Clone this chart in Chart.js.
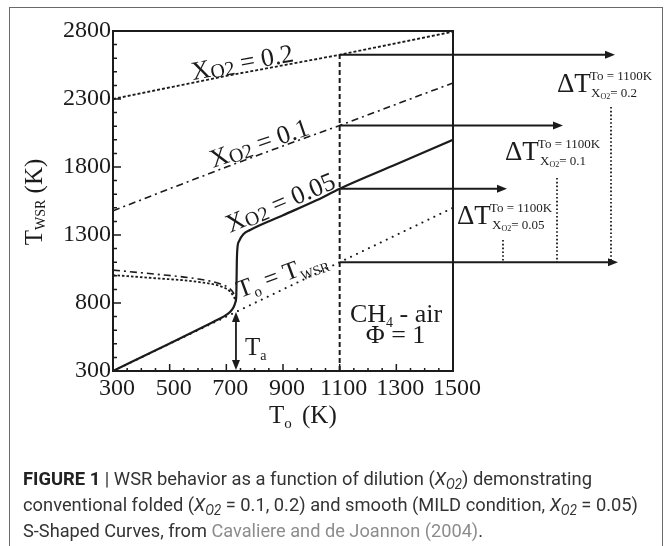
<!DOCTYPE html>
<html>
<head>
<meta charset="utf-8">
<script src="https://cdn.jsdelivr.net/npm/chart.js@4.4.1/dist/chart.umd.min.js"></script>
<style>
  html, body { margin: 0; padding: 0; background: #fff; }
  #wrap { position: relative; width: 665px; height: 546px; overflow: hidden; background: #fff; }
  #c { position: absolute; left: 0; top: 0; }
  #frame { position: absolute; left: 9px; top: 7px; width: 654px; height: 600px;
           border: 1.5px solid #6a6a6a; border-bottom: none; box-sizing: border-box; pointer-events: none; }
  .cap { position: absolute; left: 23px; font-family: Roboto, "Liberation Sans", sans-serif; font-size: 19px;
         line-height: 26px; color: #333; white-space: nowrap; transform-origin: 0 50%; }
  .cap b { color: #222; }
  .cap sub { font-size: 0.72em; vertical-align: -0.28em; line-height: 0; }
  .cite { color: #8c8c8c; }
</style>
</head>
<body>
<div id="wrap">
  <canvas id="c" width="665" height="546"></canvas>
  <div id="frame"></div>
  <div class="cap" id="l1" style="top:466px"><b>FIGURE 1</b> | WSR behavior as a function of dilution (<i>X<sub>O2</sub></i>) demonstrating</div>
  <div class="cap" id="l2" style="top:492px">conventional folded (<i>X<sub>O2</sub></i> = 0.1, 0.2) and smooth (MILD condition, <i>X<sub>O2</sub></i> = 0.05)</div>
  <div class="cap" id="l3" style="top:518px">S-Shaped Curves, from <span class="cite">Cavaliere and de Joannon (2004)</span>.</div>
</div>
<script>
// ---------- data ----------
const xTickLabels = [300, 500, 700, 900, 1100, 1300, 1500];
const yTickLabels = [300, 800, 1300, 1800, 2300, 2800];

// X_O2 = 0.2 : upper (ignited) branch and middle branch
const x02UpT  = [300, 700, 1100, 1500];
const x02UpW  = [2300, 2470, 2625, 2795];
const x02MidT = [300, 450, 600, 690, 715, 728, 734];
const x02MidW = [1005, 982, 955, 915, 880, 840, 812];

// X_O2 = 0.1 : upper branch and middle branch
const x01UpT  = [300, 500, 700, 900, 1100, 1300, 1500];
const x01UpW  = [1478, 1640, 1800, 1955, 2105, 2262, 2418];
const x01MidT = [300, 450, 600, 680, 710, 725, 733];
const x01MidW = [1042, 1012, 977, 940, 910, 875, 835];

// X_O2 = 0.05 : smooth (MILD) curve
const x005T = [300, 500, 650, 690, 713, 726, 732, 735, 736, 737, 739, 745, 760, 784, 900, 1020, 1100, 1300, 1500];
const x005W = [300, 503, 657, 700, 734, 770, 805, 850, 950, 1100, 1200, 1255, 1305, 1337, 1445, 1557, 1640, 1820, 2000];

// To = T_WSR (no reaction)
const idT = [300, 1500];
const idW = [300, 1500];

// reference inlet temperature and the T_WSR levels reached there
const To_ref = 1100;
const deltaLevels = [2625, 2105, 1640];   // X_O2 = 0.2, 0.1, 0.05
const baseLevel = 1100;                  // To = T_WSR at 1100 K
const Ta = 734;                          // autoignition temperature

const INK = '#1b1b1b';
const SERIF = '"Liberation Serif", "Times New Roman", "DejaVu Serif", serif';

const zip = (a, b) => a.map((v, i) => ({ x: v, y: b[i] }));

function line(data, opts) {
  return Object.assign({
    data, showLine: true, pointRadius: 0, borderColor: INK, borderWidth: 2,
    fill: false, tension: 0
  }, opts);
}

const datasets = [
  line(zip(idT, idW), { borderWidth: 2, borderDash: [0.1, 6.5], borderCapStyle: 'round' }),
  line(zip(x02UpT, x02UpW), { borderWidth: 1.8, borderDash: [3, 2] }),
  line(zip(x02MidT, x02MidW), { borderWidth: 1.8, borderDash: [2.5, 2], cubicInterpolationMode: 'monotone' }),
  line(zip(x01UpT, x01UpW), { borderWidth: 1.6, borderDash: [7, 4, 2, 4] }),
  line(zip(x01MidT, x01MidW), { borderWidth: 1.6, borderDash: [7, 4, 2, 4], cubicInterpolationMode: 'monotone' }),
  line(zip(x005T, x005W), { borderWidth: 2.2, cubicInterpolationMode: 'monotone' }),
  line(zip([To_ref, To_ref], [300, deltaLevels[0]]), { borderWidth: 2, borderDash: [5, 3] })
];

// ---------- helpers ----------
function rich(ctx, x, y, ang, parts, align) {
  ctx.save();
  ctx.translate(x, y);
  ctx.rotate(ang * Math.PI / 180);
  ctx.textBaseline = 'alphabetic';
  ctx.textAlign = 'left';
  let w = 0;
  parts.forEach(p => {
    ctx.font = (p.it ? 'italic ' : '') + p.s + 'px ' + SERIF;
    p.w = ctx.measureText(p.t).width + (p.gap || 0);
    w += p.w;
  });
  let cx = align === 'center' ? -w / 2 : (align === 'right' ? -w : 0);
  parts.forEach(p => {
    ctx.font = (p.it ? 'italic ' : '') + p.s + 'px ' + SERIF;
    ctx.fillText(p.t, cx, p.dy || 0);
    cx += p.w;
  });
  ctx.restore();
}

function arrowHead(ctx, x, y, dir) {
  const L = 10, H = 4;
  ctx.beginPath();
  if (dir === 'r') { ctx.moveTo(x, y); ctx.lineTo(x - L, y - H); ctx.lineTo(x - L, y + H); }
  if (dir === 'u') { ctx.moveTo(x, y); ctx.lineTo(x - H, y + L); ctx.lineTo(x + H, y + L); }
  if (dir === 'd') { ctx.moveTo(x, y); ctx.lineTo(x - H, y - L); ctx.lineTo(x + H, y - L); }
  ctx.closePath();
  ctx.fill();
}

function dotV(ctx, x, y1, y2) {
  ctx.save();
  ctx.setLineDash([1.6, 2.2]);
  ctx.lineWidth = 1.8;
  ctx.beginPath(); ctx.moveTo(x, y1); ctx.lineTo(x, y2); ctx.stroke();
  ctx.restore();
}

const deco = {
  id: 'deco',
  afterDatasetsDraw(chart) {
    const { ctx, chartArea: a, scales: { x, y } } = chart;
    ctx.save();
    ctx.strokeStyle = INK; ctx.fillStyle = INK;
    ctx.lineWidth = 2;
    ctx.setLineDash([]);
    ctx.strokeRect(a.left, a.top, a.right - a.left, a.bottom - a.top);

    // inward ticks
    ctx.lineWidth = 1.5;
    ctx.beginPath();
    for (let v = 350; v < 1500; v += 50) {
      const px = x.getPixelForValue(v);
      const len = ((v - 300) % 200 === 0) ? 7 : 3;
      ctx.moveTo(px, a.bottom); ctx.lineTo(px, a.bottom - len);
    }
    for (let v = 400; v < 2800; v += 100) {
      const py = y.getPixelForValue(v);
      const len = ((v - 300) % 500 === 0) ? 8 : 4;
      ctx.moveTo(a.left, py); ctx.lineTo(a.left + len, py);
    }
    ctx.stroke();

    // horizontal arrows at To = 1100 K
    const xs = x.getPixelForValue(To_ref);
    const tips = [615, 563, 507];
    ctx.lineWidth = 2;
    deltaLevels.forEach((lv, i) => {
      const py = y.getPixelForValue(lv);
      ctx.beginPath(); ctx.moveTo(xs, py); ctx.lineTo(tips[i] - 6, py); ctx.stroke();
      arrowHead(ctx, tips[i], py, 'r');
    });
    const pyBase = y.getPixelForValue(baseLevel);
    ctx.beginPath(); ctx.moveTo(xs, pyBase); ctx.lineTo(612, pyBase); ctx.stroke();
    arrowHead(ctx, 618, pyBase, 'r');

    // vertical dotted ΔT markers
    dotV(ctx, 611, 107, pyBase);
    dotV(ctx, 557, 178, pyBase);
    dotV(ctx, 503, 240, pyBase);

    // Ta double arrow
    const xa = x.getPixelForValue(Ta);
    const yTop = y.getPixelForValue(Ta), yBot = y.getPixelForValue(300);
    ctx.lineWidth = 1.8;
    ctx.beginPath(); ctx.moveTo(xa, yTop + 6); ctx.lineTo(xa, yBot - 6); ctx.stroke();
    arrowHead(ctx, xa, yTop, 'u');
    arrowHead(ctx, xa, yBot - 1, 'd');

    // curve labels (anchored in data coordinates)
    const P = (t, w) => [x.getPixelForValue(t), y.getPixelForValue(w)];
    let p;
    p = P(582, 2440); rich(ctx, p[0], p[1], -10.5, [{ t: 'X', s: 26 }, { t: 'O2', s: 20, dy: 2 }, { t: ' = 0.2', s: 26 }]);
    p = P(653, 1793); rich(ctx, p[0], p[1], -19, [{ t: 'X', s: 26 }, { t: 'O2', s: 20, dy: 2 }, { t: ' = 0.1', s: 26 }]);
    p = P(713, 1315); rich(ctx, p[0], p[1], -23, [{ t: 'X', s: 26 }, { t: 'O2', s: 20, dy: 2 }, { t: ' = 0.05', s: 26 }]);
    p = P(748, 837);  rich(ctx, p[0], p[1], -20, [{ t: 'T', s: 25 }, { t: 'o', s: 15, dy: 5 }, { t: ' = T', s: 25 }, { t: 'WSR', s: 14, dy: 5 }]);
    p = P(766, 418);  rich(ctx, p[0], p[1], 0, [{ t: 'T', s: 25 }, { t: 'a', s: 14, dy: 5 }]);
    p = P(1299, 660); rich(ctx, p[0], p[1], 0, [{ t: 'CH', s: 26 }, { t: '4', s: 14, dy: 5 }, { t: ' - air', s: 26 }], 'center');
    p = P(1297, 506); rich(ctx, p[0], p[1], 0, [{ t: '\u03A6 = 1', s: 26 }], 'center');

    // ΔT labels
    const dl = (x0, yb, sub, xs2) => {
      rich(ctx, x0, yb, 0, [{ t: '\u0394T', s: 27 }]);
      ctx.font = '27px ' + SERIF;
      const w = ctx.measureText('\u0394T').width;
      rich(ctx, x0 + w - 1, yb - 12, 0, [{ t: 'To = 1100K', s: 13 }]);
      rich(ctx, xs2, yb + 5, 0, [{ t: 'X', s: 13 }, { t: 'O2', s: 8, dy: 2 }, { t: '= ' + sub, s: 13 }]);
    };
    dl(557, 92, '0.2', 591);
    dl(505, 160, '0.1', 540);
    dl(457, 224, '0.05', 492);

    // axis titles
    rich(ctx, 42, 202, -90, [{ t: 'T', s: 25 }, { t: 'WSR', s: 14, dy: 3 }, { t: ' (K)', s: 25 }], 'center');
    rich(ctx, 269, 423, 0, [{ t: 'T', s: 25 }, { t: 'o', s: 15, dy: 5, gap: 4 }, { t: ' (K)', s: 25 }]);

    ctx.restore();
  }
};

new Chart(document.getElementById('c'), {
  type: 'scatter',
  data: { datasets },
  options: {
    responsive: false,
    animation: false,
    devicePixelRatio: 1,
    layout: { padding: { left: 0, top: 31, right: 212, bottom: 0 } },
    plugins: { legend: { display: false }, tooltip: { enabled: false } },
    scales: {
      x: {
        type: 'linear', min: 300, max: 1500,
        afterBuildTicks: s => { s.ticks = xTickLabels.map(v => ({ value: v })); },
        afterFit: s => { s.height = 175; },
        grid: { display: false, drawTicks: false },
        border: { display: false },
        ticks: { color: INK, padding: 3, maxRotation: 0, autoSkip: false, labelOffset: 4,
                 callback: v => String(v),
                 font: { family: SERIF, size: 24 } }
      },
      y: {
        type: 'linear', min: 300, max: 2800,
        afterBuildTicks: s => { s.ticks = yTickLabels.map(v => ({ value: v })); },
        afterFit: s => { s.width = 113; },
        grid: { display: false, drawTicks: false },
        border: { display: false },
        ticks: { color: INK, padding: 2, autoSkip: false,
                 callback: v => String(v),
                 font: { family: SERIF, size: 24 } }
      }
    }
  },
  plugins: [deco]
});

// fit caption lines to the measured line lengths (condensed face)
const targets = { l1: 569, l2: 615, l3: 460 };
Object.keys(targets).forEach(id => {
  const el = document.getElementById(id);
  const w = el.getBoundingClientRect().width;
  el.style.transform = 'scaleX(' + (targets[id] / w) + ')';
});
</script>
</body>
</html>
